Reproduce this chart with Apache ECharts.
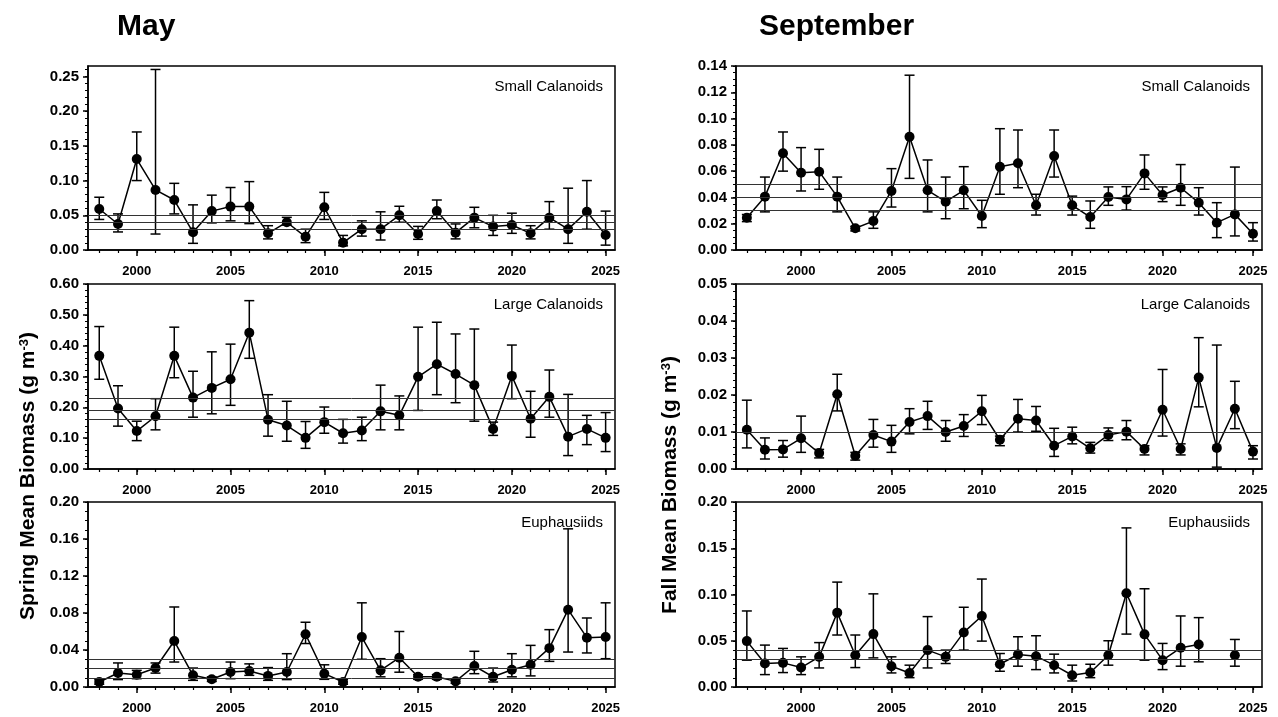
<!DOCTYPE html>
<html>
<head>
<meta charset="utf-8">
<script src="https://cdn.jsdelivr.net/npm/echarts@6/dist/echarts.min.js"></script>
<style>
  html, body { margin: 0; padding: 0; background: #fff; }
  #chart { width: 1278px; height: 717px; }
</style>
</head>
<body>
<div id="chart"></div>
<script>
  // years
  var yearsMay = [1998, 1999, 2000, 2001, 2002, 2003, 2004, 2005, 2006, 2007, 2008, 2009, 2010, 2011,
    2012, 2013, 2014, 2015, 2016, 2017, 2018, 2019, 2020, 2021, 2022, 2023, 2024, 2025]
  var yearsSep = [1997].concat(yearsMay)
  var yearLabels = [2000, 2005, 2010, 2015, 2020, 2025]

  // May - small calanoids
  var maySmallMean = [0.059, 0.0375, 0.131, 0.0865, 0.072, 0.0255, 0.056, 0.0625, 0.0625, 0.024, 0.040, 0.019, 0.0615, 0.0106,
    0.030, 0.030, 0.050, 0.023, 0.056, 0.025, 0.0466, 0.0337, 0.036, 0.024, 0.0466, 0.030, 0.055, 0.0216]
  var maySmallHi = [0.076, 0.052, 0.170, 0.260, 0.096, 0.065, 0.079, 0.090, 0.0985, 0.035, 0.047, 0.030, 0.083, 0.021,
    0.042, 0.055, 0.063, 0.034, 0.072, 0.0375, 0.0615, 0.050, 0.053, 0.035, 0.0697, 0.089, 0.100, 0.056]
  var maySmallLo = [0.044, 0.026, 0.100, 0.023, 0.052, 0.0096, 0.039, 0.042, 0.038, 0.016, 0.036, 0.0106, 0.044, 0.006,
    0.020, 0.0144, 0.040, 0.0154, 0.045, 0.016, 0.032, 0.021, 0.024, 0.016, 0.030, 0.0096, 0.030, 0.007]
  var maySmallRef = [0.0457, 0.037, 0.030]

  // May - large calanoids
  var mayLargeMean = [0.367, 0.196, 0.123, 0.171, 0.367, 0.2315, 0.263, 0.291, 0.442, 0.160, 0.141, 0.101, 0.152, 0.116,
    0.125, 0.187, 0.174, 0.299, 0.340, 0.308, 0.272, 0.130, 0.302, 0.163, 0.234, 0.105, 0.130, 0.101]
  var mayLargeHi = [0.462, 0.270, 0.155, 0.228, 0.460, 0.317, 0.380, 0.405, 0.546, 0.241, 0.2196, 0.154, 0.201, 0.161,
    0.168, 0.272, 0.237, 0.460, 0.476, 0.438, 0.454, 0.152, 0.402, 0.252, 0.321, 0.242, 0.174, 0.183]
  var mayLargeLo = [0.291, 0.139, 0.092, 0.127, 0.296, 0.168, 0.179, 0.2065, 0.359, 0.1065, 0.090, 0.067, 0.116, 0.084,
    0.092, 0.127, 0.127, 0.190, 0.241, 0.215, 0.155, 0.109, 0.228, 0.103, 0.168, 0.0435, 0.079, 0.0565]
  var mayLargeRef = [0.2315, 0.192, 0.160]

  // May - euphausiids
  var mayEuphMean = [0.0054, 0.0151, 0.0133, 0.0205, 0.0497, 0.0126, 0.0083, 0.0162, 0.0173, 0.012, 0.0162, 0.057, 0.0144, 0.0054,
    0.054, 0.018, 0.0317, 0.011, 0.011, 0.0061, 0.0227, 0.011, 0.0187, 0.024, 0.042, 0.0836, 0.0533, 0.054]
  var mayEuphHi = [0.008, 0.026, 0.018, 0.026, 0.0865, 0.0205, 0.011, 0.027, 0.025, 0.021, 0.036, 0.070, 0.024, 0.0083,
    0.091, 0.0306, 0.060, 0.0133, 0.0133, 0.0083, 0.0386, 0.0205, 0.036, 0.045, 0.062, 0.171, 0.0746, 0.091]
  var mayEuphLo = [0.003, 0.008, 0.009, 0.015, 0.027, 0.0072, 0.006, 0.009, 0.0126, 0.0072, 0.008, 0.047, 0.0083, 0.003,
    0.030, 0.011, 0.016, 0.0083, 0.0083, 0.004, 0.0144, 0.0054, 0.011, 0.012, 0.0277, 0.0378, 0.0368, 0.0306]
  var mayEuphRef = [0.026, 0.0198, 0.0144]

  // September - small calanoids
  var sepSmallMean = [0.0246, 0.0406, 0.0736, 0.0588, 0.0596, 0.0406, 0.0165, 0.022, 0.0449, 0.0862, 0.0454, 0.0368, 0.0454, 0.0259,
    0.0634, 0.066, 0.034, 0.0715, 0.034, 0.0251, 0.0403, 0.0385, 0.0583, 0.0418, 0.0474, 0.036, 0.0208, 0.0271, 0.0124]
  var sepSmallHi = [0.027, 0.0555, 0.0898, 0.0779, 0.0766, 0.0555, 0.018, 0.029, 0.0619, 0.133, 0.0685, 0.0555, 0.0634, 0.0378,
    0.0923, 0.0913, 0.0424, 0.0913, 0.041, 0.0373, 0.048, 0.0482, 0.0723, 0.048, 0.065, 0.0474, 0.036, 0.0631, 0.0208]
  var sepSmallLo = [0.0216, 0.029, 0.060, 0.0449, 0.0462, 0.029, 0.0145, 0.0165, 0.0327, 0.0545, 0.029, 0.0238, 0.0314, 0.017,
    0.0424, 0.0474, 0.0266, 0.0555, 0.0266, 0.0165, 0.034, 0.0304, 0.0462, 0.0368, 0.034, 0.0266, 0.0094, 0.0107, 0.0068]
  var sepSmallRef = [0.0467, 0.039, 0.033]

  // September - large calanoids
  var sepLargeMean = [0.0106, 0.0052, 0.0053, 0.0083, 0.0043, 0.0202, 0.0036, 0.0092, 0.0074, 0.0127, 0.0143, 0.010, 0.0116, 0.0156,
    0.0079, 0.0136, 0.0131, 0.0063, 0.0088, 0.0056, 0.0092, 0.0101, 0.0054, 0.016, 0.0054, 0.0247, 0.0057, 0.0163, 0.0047]
  var sepLargeHi = [0.0186, 0.0084, 0.0077, 0.0143, 0.0053, 0.0256, 0.0045, 0.0134, 0.0118, 0.0163, 0.0183, 0.0131, 0.0147, 0.0199,
    0.0089, 0.0188, 0.0169, 0.011, 0.0113, 0.0072, 0.0111, 0.0131, 0.0063, 0.0269, 0.0068, 0.0355, 0.0335, 0.0237, 0.0063]
  var sepLargeLo = [0.0057, 0.0027, 0.0032, 0.0045, 0.003, 0.0157, 0.0024, 0.0059, 0.0045, 0.0095, 0.0107, 0.0075, 0.0088, 0.012,
    0.0063, 0.010, 0.0102, 0.0034, 0.0068, 0.0043, 0.0077, 0.0079, 0.0038, 0.0089, 0.0038, 0.0168, 0.0005, 0.0109, 0.0027]
  var sepLargeRef = [0.0113, 0.0092, 0.0077]

  // September - euphausiids (no survey value 2023, 2025)
  var sepEuphMean = [0.0496, 0.0254, 0.0261, 0.021, 0.0326, 0.0804, 0.0344, 0.0572, 0.0225, 0.0152, 0.0399, 0.0326, 0.059, 0.0768,
    0.0246, 0.0351, 0.0333, 0.0236, 0.0127, 0.0156, 0.0344, 0.1014, 0.0569, 0.029, 0.0424, 0.046, null, 0.0344, null]
  var sepEuphHi = [0.0822, 0.0453, 0.0417, 0.0326, 0.048, 0.1134, 0.0562, 0.1007, 0.0326, 0.0236, 0.0761, 0.0399, 0.0862, 0.1167,
    0.0362, 0.0543, 0.0554, 0.0355, 0.0236, 0.0246, 0.05, 0.172, 0.1062, 0.0471, 0.0768, 0.075, null, 0.0514, null]
  var sepEuphLo = [0.029, 0.0134, 0.0156, 0.0134, 0.0206, 0.0562, 0.021, 0.0315, 0.0152, 0.0101, 0.0206, 0.0254, 0.0399, 0.0496,
    0.017, 0.0225, 0.0188, 0.0152, 0.0065, 0.0101, 0.0236, 0.0572, 0.029, 0.0188, 0.0225, 0.0272, null, 0.0225, null]
  var sepEuphRef = [0.0424, 0.0355, 0.029]

  var FONT = '"Liberation Sans", Arial, sans-serif'
  var LEFT = {left: 88, width: 527, xMin: 1997.4, xMax: 2025.5}
  var RIGHT = {left: 736, width: 526, xMin: 1996.4, xMax: 2025.5}
  var ROWS = [{top: 66, height: 184}, {top: 284, height: 185}, {top: 502, height: 185}]

  var panels = [
    {col: LEFT, row: ROWS[0], name: 'Small Calanoids', years: yearsMay, mean: maySmallMean, hi: maySmallHi, lo: maySmallLo, ref: maySmallRef, yMax: 0.265, step: 0.05, minor: 0.01},
    {col: LEFT, row: ROWS[1], name: 'Large Calanoids', years: yearsMay, mean: mayLargeMean, hi: mayLargeHi, lo: mayLargeLo, ref: mayLargeRef, yMax: 0.6, step: 0.1, minor: 0.02},
    {col: LEFT, row: ROWS[2], name: 'Euphausiids', years: yearsMay, mean: mayEuphMean, hi: mayEuphHi, lo: mayEuphLo, ref: mayEuphRef, yMax: 0.2, step: 0.04, minor: 0.01},
    {col: RIGHT, row: ROWS[0], name: 'Small Calanoids', years: yearsSep, mean: sepSmallMean, hi: sepSmallHi, lo: sepSmallLo, ref: sepSmallRef, yMax: 0.14, step: 0.02, minor: 0.005},
    {col: RIGHT, row: ROWS[1], name: 'Large Calanoids', years: yearsSep, mean: sepLargeMean, hi: sepLargeHi, lo: sepLargeLo, ref: sepLargeRef, yMax: 0.05, step: 0.01, minor: 0.002},
    {col: RIGHT, row: ROWS[2], name: 'Euphausiids', years: yearsSep, mean: sepEuphMean, hi: sepEuphHi, lo: sepEuphLo, ref: sepEuphRef, yMax: 0.2, step: 0.05, minor: 0.01}
  ]

  function steps(max, step) {
    var out = []
    var n = Math.floor(max / step + 1e-6)
    for (var i = 0; i <= n; i++) out.push(+(i * step).toFixed(4))
    return out
  }

  function renderErr(params, api) {
    var x = api.value(0)
    var lo = api.coord([x, api.value(1)])
    var hi = api.coord([x, api.value(2)])
    var w = 5
    var st = {stroke: '#000', lineWidth: 1.5}
    return {
      type: 'group',
      children: [
        {type: 'line', shape: {x1: hi[0], y1: hi[1], x2: lo[0], y2: lo[1]}, style: st},
        {type: 'line', shape: {x1: hi[0] - w, y1: hi[1], x2: hi[0] + w, y2: hi[1]}, style: st},
        {type: 'line', shape: {x1: lo[0] - w, y1: lo[1], x2: lo[0] + w, y2: lo[1]}, style: st}
      ]
    }
  }

  var grid = [], xAxis = [], yAxis = [], series = [], graphic = []

  panels.forEach(function (p, k) {
    grid.push({
      left: p.col.left, top: p.row.top, width: p.col.width, height: p.row.height,
      show: true, borderColor: '#000', borderWidth: 1.5, backgroundColor: 'transparent'
    })
    // major x ticks with labels
    xAxis.push({
      type: 'value', gridIndex: k, position: 'bottom', min: p.col.xMin, max: p.col.xMax,
      axisLine: {lineStyle: {color: '#000', width: 1.5}},
      axisTick: {customValues: yearLabels, length: 6, lineStyle: {color: '#000', width: 1.5}},
      axisLabel: {
        customValues: yearLabels, margin: 15, color: '#000', fontFamily: FONT, fontWeight: 'bold', fontSize: 13,
        formatter: function (v) { return String(Math.round(v)) }
      },
      splitLine: {show: false}
    })
    // yearly minor ticks
    xAxis.push({
      type: 'value', gridIndex: k, position: 'bottom', min: p.col.xMin, max: p.col.xMax,
      axisLine: {show: false},
      axisTick: {customValues: p.years, length: 3, lineStyle: {color: '#000', width: 1.2}},
      axisLabel: {show: false},
      splitLine: {show: false}
    })
    var major = steps(p.yMax, p.step)
    yAxis.push({
      type: 'value', gridIndex: k, position: 'left', min: 0, max: p.yMax,
      axisLine: {show: true, lineStyle: {color: '#000', width: 1.5}},
      axisTick: {show: true, customValues: major, length: 5, lineStyle: {color: '#000', width: 1.5}},
      axisLabel: {
        customValues: major, margin: 9, color: '#000', fontFamily: FONT, fontWeight: 'bold', fontSize: 15,
        formatter: function (v) { return v.toFixed(2) }
      },
      splitLine: {show: false}
    })
    yAxis.push({
      type: 'value', gridIndex: k, position: 'left', min: 0, max: p.yMax,
      axisLine: {show: false},
      axisTick: {show: true, customValues: steps(p.yMax, p.minor), length: 3, lineStyle: {color: '#000', width: 1}},
      axisLabel: {show: false},
      splitLine: {show: false}
    })

    var errData = []
    var lineData = []
    p.years.forEach(function (y, i) {
      if (p.mean[i] != null) {
        errData.push([y, p.lo[i], p.hi[i]])
        lineData.push([y, p.mean[i]])
      } else {
        lineData.push([y, '-'])
      }
    })

    series.push({
      type: 'custom', xAxisIndex: 2 * k, yAxisIndex: 2 * k, z: 2,
      renderItem: renderErr, encode: {x: 0, y: [1, 2]}, data: errData, silent: true
    })
    series.push({
      type: 'line', xAxisIndex: 2 * k, yAxisIndex: 2 * k, z: 3,
      data: lineData, connectNulls: false,
      symbol: 'circle', symbolSize: 10,
      itemStyle: {color: '#000'},
      lineStyle: {color: '#000', width: 1.5},
      markLine: {
        silent: true, symbol: ['none', 'none'], label: {show: false},
        lineStyle: {type: 'solid', color: '#333', width: 1},
        data: p.ref.map(function (v) { return {yAxis: v} })
      }
    })

    graphic.push({
      type: 'text', right: 1278 - (p.col.left + p.col.width) + 12, top: p.row.top + 13,
      style: {text: p.name, font: '15px ' + FONT, fill: '#000'}
    })
  })

  // column titles
  graphic.push({type: 'text', left: 117, top: 12, style: {text: 'May', font: 'bold 30px ' + FONT, fill: '#000'}})
  graphic.push({type: 'text', left: 759, top: 12, style: {text: 'September', font: 'bold 30px ' + FONT, fill: '#000'}})

  // y axis names
  function yName(label, x, y) {
    return {
      type: 'text', x: x, y: y, rotation: Math.PI / 2,
      style: {
        text: '{a|' + label + ' (g m}{s|-3}{a|)}',
        align: 'center', verticalAlign: 'middle',
        rich: {
          a: {font: 'bold 21px ' + FONT, fill: '#000'},
          s: {font: 'bold 13px ' + FONT, fill: '#000', verticalAlign: 'top'}
        }
      }
    }
  }
  graphic.push(yName('Spring Mean Biomass', 28, 476))
  graphic.push(yName('Fall Mean Biomass', 670, 485))

  var chart = echarts.init(document.getElementById('chart'))
  chart.setOption({
    animation: false,
    backgroundColor: '#fff',
    grid: grid,
    xAxis: xAxis,
    yAxis: yAxis,
    series: series,
    graphic: graphic
  })
</script>
</body>
</html>
